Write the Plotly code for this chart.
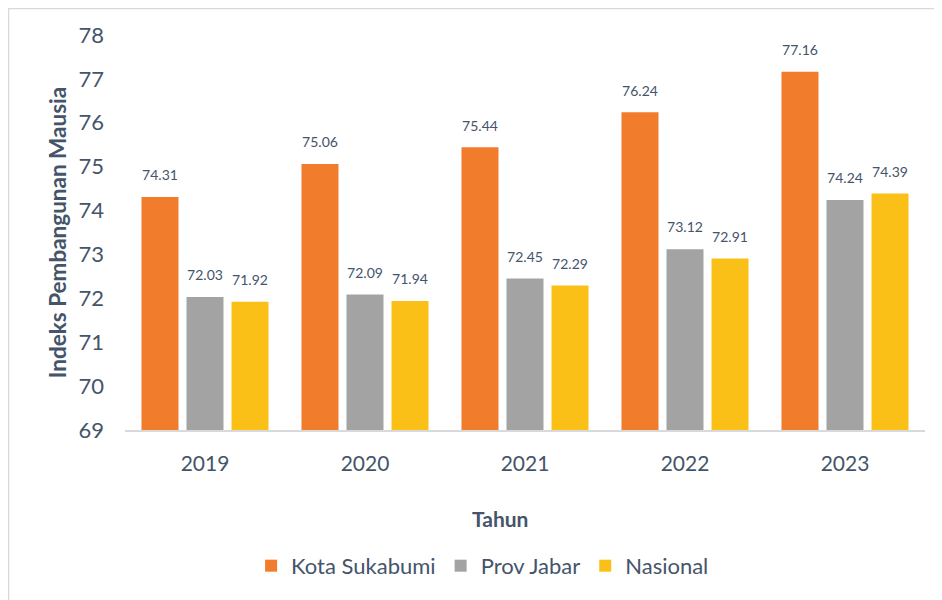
import plotly.graph_objects as go

years = ["2019", "2020", "2021", "2022", "2023"]
kota_sukabumi = [74.31, 75.06, 75.44, 76.24, 77.16]
prov_jabar = [72.03, 72.09, 72.45, 73.12, 74.24]
nasional = [71.92, 71.94, 72.29, 72.91, 74.39]

series = [
    ("Kota Sukabumi", kota_sukabumi, "#F07C2C"),
    ("Prov Jabar", prov_jabar, "#A3A3A3"),
    ("Nasional", nasional, "#FBC018"),
]

TXT = "#44546A"
FONT = "Lato, 'Open Sans', sans-serif"

fig = go.Figure()
for name, vals, col in series:
    fig.add_trace(go.Bar(
        x=years, y=vals, name=name,
        marker=dict(color=col, line=dict(width=0)),
        text=[f"<span style='font-size:14px'>{v:.2f}</span><br> " for v in vals],
        textposition="outside",
        textfont=dict(size=9, color=TXT, family=FONT),
        cliponaxis=False,
        hoverinfo="x+y+name",
    ))

# page body has an 8px default margin: figure is placed at (8, 8)
W, H = 934, 592
fig.update_layout(
    width=W, height=H,
    paper_bgcolor="white", plot_bgcolor="white",
    font=dict(family=FONT, color=TXT),
    barmode="group", bargap=0.156, bargroupgap=0.178,
    margin=dict(l=117, r=17, t=27, b=170),
    showlegend=True,
    legend=dict(orientation="h", x=0.447, xanchor="center", y=-0.344, yanchor="middle",
                font=dict(size=22, color=TXT, family=FONT), itemsizing="constant",
                traceorder="normal"),
    xaxis=dict(
        showline=True, linecolor="#D9D9D9", linewidth=1.5,
        showgrid=False, ticks="", ticklabelstandoff=14,
        tickfont=dict(size=21, color=TXT, family=FONT),
    ),
    yaxis=dict(
        range=[69, 78], dtick=1, showgrid=False, showline=False, zeroline=False,
        ticks="", ticklabelstandoff=20,
        tickfont=dict(size=22, color=TXT, family=FONT),
        title=dict(text="<b>Indeks Pembangunan Mausia</b>", font=dict(size=22.5, color=TXT, family=FONT), standoff=5),
    ),
    annotations=[dict(text="<b>Tahun</b>", xref="paper", yref="paper",
                      x=(500 - 125) / 800, y=(430 - 518) / 395,
                      xanchor="center", yanchor="middle", showarrow=False,
                      font=dict(size=21, color=TXT, family=FONT))],
    shapes=[dict(type="rect", xref="paper", yref="paper",
                 x0=(0.5 - 117) / 800, x1=(W + 5 - 117) / 800,
                 y0=(422 - H - 5) / 395, y1=(422 - 0.5) / 395,
                 line=dict(color="#D9D9D9", width=1.5), fillcolor="rgba(0,0,0,0)", layer="below")],
)

fig.write_html("out.html")
